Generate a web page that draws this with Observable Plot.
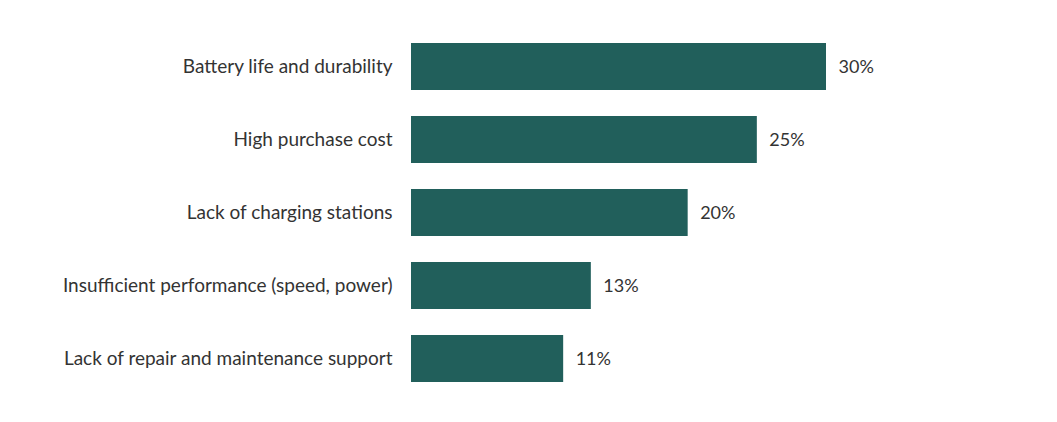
<!DOCTYPE html>
<html>
<head>
<meta charset="utf-8">
<script src="https://cdn.jsdelivr.net/npm/d3@7"></script>
<script src="https://cdn.jsdelivr.net/npm/@observablehq/plot@0.6"></script>
<style>
  html, body { margin: 0; padding: 0; background: #fff; }
  #chart svg { display: block; }
</style>
</head>
<body>
<div id="chart"></div>
<script>
const categories = [
  "Battery life and durability",
  "High purchase cost",
  "Lack of charging stations",
  "Insufficient performance (speed, power)",
  "Lack of repair and maintenance support"
];
const values = [30, 25, 20, 13, 11];

const data = categories.map((c, i) => ({category: c, value: values[i]}));

const FONT = "Lato, 'Open Sans', sans-serif";

const chart = Plot.plot({
  width: 1057,
  height: 422,
  marginLeft: 411,
  marginRight: 231,
  marginTop: 17,
  marginBottom: 14,
  style: {fontFamily: FONT, fontSize: "19px", color: "#333", background: "#fff"},
  x: {domain: [0, 30], axis: null},
  y: {domain: categories, padding: 0.356, label: null},
  marks: [
    Plot.barX(data, {x: "value", y: "category", fill: "#215f5b"}),
    Plot.text(data, {x: "value", y: "category", text: d => d.value + "%", dx: 12, textAnchor: "start", fill: "#333", fontSize: 18}),
    Plot.axisY({tickSize: 0, tickPadding: 19, label: null, fontSize: 19, fill: "#333"})
  ]
});
document.getElementById("chart").appendChild(chart);
</script>
</body>
</html>
